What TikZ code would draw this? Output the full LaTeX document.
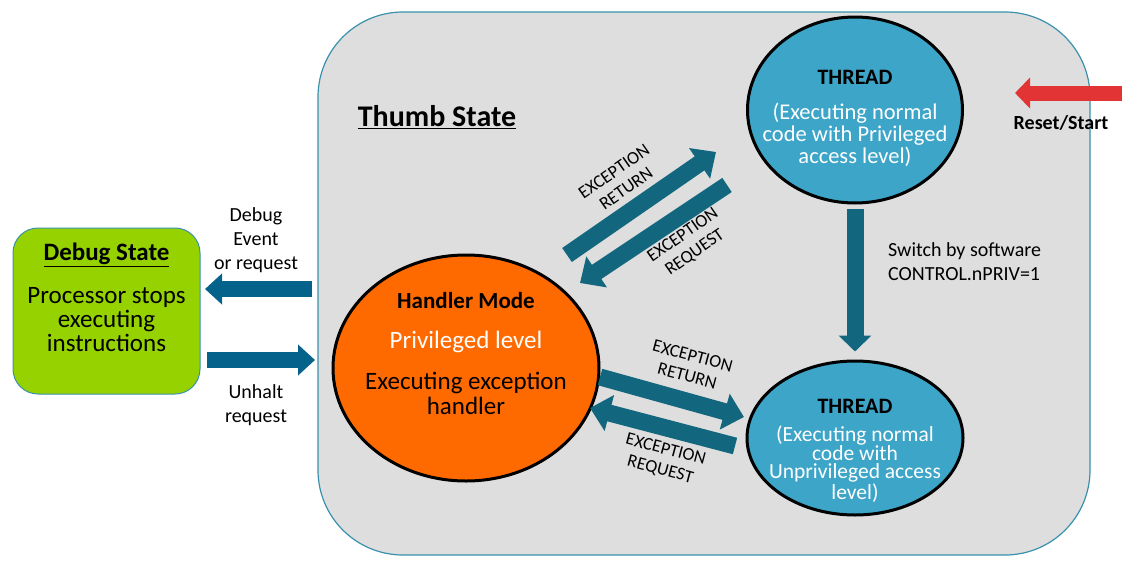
\documentclass[tikz,border=0pt]{standalone}
\usepackage{fontspec}
\setmainfont{Carlito}
\usetikzlibrary{shapes.geometric,arrows.meta}

\definecolor{thumbgray}{HTML}{DEDEDE}
\definecolor{bordteal}{HTML}{3A91AE}
\definecolor{threadblue}{HTML}{3DA5C8}
\definecolor{handlerorange}{HTML}{FF6A00}
\definecolor{debuggreen}{HTML}{95D200}
\definecolor{arrowteal}{HTML}{12677F}
\definecolor{debugarrow}{HTML}{05628A}
\definecolor{resetred}{HTML}{E23434}

\tikzset{
  modestate/.style={ellipse, draw=black, line width=3pt},
  blockarrow/.style={draw=arrowteal, line width=17pt, -{Triangle[width=36pt,length=20pt]}},
  lbl/.style={inner sep=0pt, align=center},
  exclbl/.style={lbl, font=\fontsize{18}{21}\selectfont},
}

\begin{document}
\begin{tikzpicture}[x=1pt,y=-1pt]
  \useasboundingbox (0,0) rectangle (1141,581);
  \fill[white] (0,0) rectangle (1141,581);

  \node[draw=bordteal, fill=thumbgray, line width=1.2pt, rounded corners=85pt,
        minimum width=772pt, minimum height=543pt] (thumb) at (704,283.5) {};
  \node[lbl, font=\fontsize{30}{36}\selectfont\bfseries] (thumbtitle) at (437,117) {\underline{Thumb State}};

  % debug state
  \node[draw=bordteal, fill=debuggreen, line width=1pt, rounded corners=25pt,
        minimum width=187pt, minimum height=166pt] (debug) at (106.5,311) {};
  \node[lbl, font=\fontsize{25}{30}\selectfont\bfseries] (debugtitle) at (106.5,255) {\underline{Debug State}};
  \node[lbl, font=\fontsize{25}{24}\selectfont] (debugtext) at (106.5,320) {Processor stops\\executing\\instructions};

  % modes
  \node[modestate, fill=threadblue, minimum width=215pt, minimum height=186pt] (tp) at (855,110) {};
  \node[lbl, font=\fontsize{22}{26}\selectfont\bfseries] (tptitle) at (855,77) {THREAD};
  \node[lbl, text=white, font=\fontsize{22.5}{22}\selectfont] (tptext) at (855,135)
    {(Executing normal\\code with Privileged\\access level)};

  \node[modestate, fill=threadblue, minimum width=216pt, minimum height=154pt] (tu) at (855,438) {};
  \node[lbl, font=\fontsize{22}{26}\selectfont\bfseries] (tutitle) at (855,406) {THREAD};
  \node[lbl, text=white, font=\fontsize{21.5}{18}\selectfont] (tutext) at (855,464)
    {(Executing normal\\code with\\Unprivileged access\\level)};

  \node[modestate, fill=handlerorange, minimum width=266pt, minimum height=226pt] (hm) at (466,368) {};
  \node[lbl, font=\fontsize{23}{26}\selectfont\bfseries] (hmtitle) at (466,301) {Handler Mode};
  \node[lbl, text=white, font=\fontsize{25}{28}\selectfont] (hmlevel) at (466,342) {Privileged level};
  \node[lbl, font=\fontsize{25}{25}\selectfont] (hmtext) at (466,393) {Executing exception\\handler};

  % arrow ends
  \coordinate (retA) at (567,255);  \coordinate (retB) at (716,152);
  \coordinate (reqA) at (727,185);  \coordinate (reqB) at (580,283);
  \coordinate (uretA) at (600,377); \coordinate (uretB) at (744,417);
  \coordinate (ureqA) at (735,446); \coordinate (ureqB) at (590,408);
  \coordinate (dbgA) at (312,289);  \coordinate (dbgB) at (205,289);
  \coordinate (unhA) at (207,360);  \coordinate (unhB) at (315,360);
  \coordinate (rstA) at (1122,93);  \coordinate (rstB) at (1015,93);

  \draw[blockarrow] (retA) -- (retB);
  \draw[blockarrow] (reqA) -- (reqB);
  \draw[blockarrow] (uretA) -- (uretB);
  \draw[blockarrow] (ureqA) -- (ureqB);
  \draw[blockarrow, -{Triangle[width=32pt,length=16pt]}, shorten <=4pt, shorten >=8pt] (tp.south) -- (tu.north);
  \draw[blockarrow, draw=debugarrow, line width=16pt, -{Triangle[width=30pt,length=17pt]}] (dbgA) -- (dbgB);
  \draw[blockarrow, draw=debugarrow, line width=16pt, -{Triangle[width=30pt,length=17pt]}] (unhA) -- (unhB);
  \draw[blockarrow, draw=resetred, line width=15pt, -{Triangle[width=30pt,length=15pt]}] (rstA) -- (rstB);

  % labels
  \node[exclbl, rotate=35] (retlbl) at (620,180) {EXCEPTION\\RETURN};
  \node[exclbl, rotate=35] (reqlbl) at (689,244) {EXCEPTION\\REQUEST};
  \node[exclbl, rotate=-15] (uretlbl) at (690,366) {EXCEPTION\\RETURN};
  \node[exclbl, rotate=-15] (ureqlbl) at (663,460) {EXCEPTION\\REQUEST};
  \node[lbl, font=\fontsize{20}{24}\selectfont] (dbglbl) at (256,240) {Debug\\Event\\or request};
  \node[lbl, font=\fontsize{20}{24}\selectfont] (unhlbl) at (256,405) {Unhalt\\request};
  \node[lbl, font=\fontsize{20}{24}\selectfont, align=left, anchor=west] (swlbl) at (888,262) {Switch by software\\CONTROL.nPRIV=1};
  \node[lbl, font=\fontsize{20}{24}\selectfont\bfseries] (rstlbl) at (1061,123) {Reset/Start};
\end{tikzpicture}
\end{document}
